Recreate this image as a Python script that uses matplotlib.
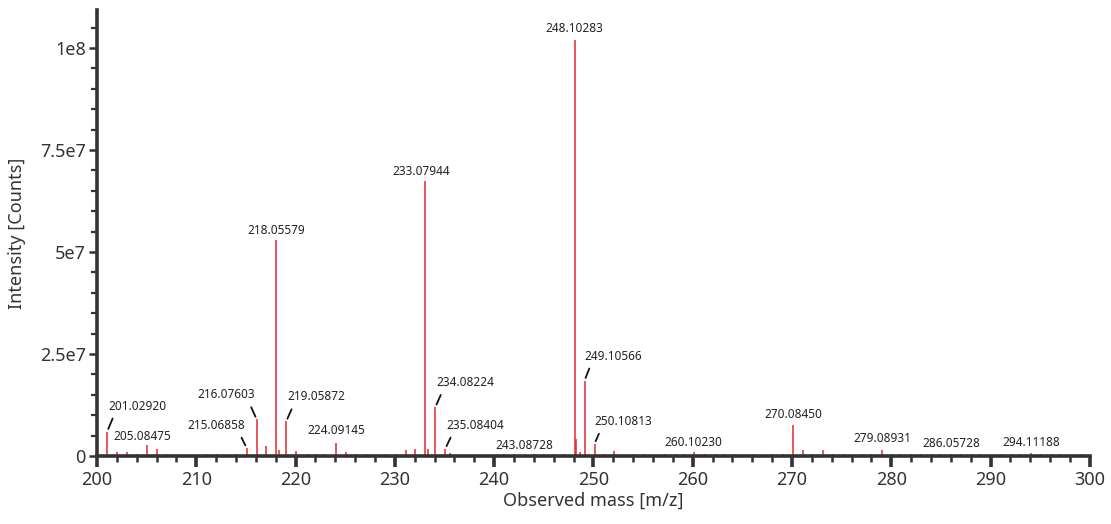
import numpy as np
import matplotlib
matplotlib.use("Agg")
import matplotlib.pyplot as plt
from matplotlib.ticker import MultipleLocator, FuncFormatter

plt.rcParams["font.family"] = ["Noto Sans", "DejaVu Sans"]

# labelled peaks: m/z and intensity
peak_mz = [201.02920, 205.08475, 215.06858, 216.07603, 218.05579, 219.05872,
           224.09145, 233.07944, 234.08224, 235.08404, 243.08728, 248.10283,
           249.10566, 250.10813, 260.10230, 270.08450, 279.08931, 286.05728,
           294.11188]
peak_int = [6.0e6, 2.6e6, 2.0e6, 9.0e6, 5.3e7, 8.5e6,
            3.1e6, 6.75e7, 1.2e7, 1.8e6, 0.45e6, 1.02e8,
            1.85e7, 3.0e6, 0.9e6, 7.6e6, 1.5e6, 0.6e6,
            0.8e6]

# unlabelled minor peaks
minor_mz = [199.95, 202.05, 203.05, 204.06, 206.08, 206.98, 207.99, 211.0,
            212.1, 213.9, 217.05, 218.35, 220.06, 221.2, 222.2, 223.0,
            225.07, 226.1, 227.1, 228.1, 229.1, 230.1, 231.1, 232.06,
            233.3, 235.55, 236.2, 241.0, 242.0, 244.05, 245.06, 246.07,
            247.08, 248.25, 248.6, 251.1, 252.1, 253.1, 254.1, 255.1,
            257.2, 258.2, 259.2, 261.2, 262.2, 263.2, 264.2, 265.2,
            266.2, 268.0, 269.05, 271.07, 272.07, 273.08, 274.1, 275.3,
            277.0, 278.0, 280.0, 281.0, 282.0, 283.0, 284.0, 285.05,
            287.06, 288.07, 289.08, 290.1, 291.1, 292.1, 293.1, 295.1,
            296.1, 297.1, 298.2, 299.2]
minor_int = [0.8e6, 1.0e6, 1.0e6, 0.6e6, 1.6e6, 0.6e6, 0.5e6, 0.4e6,
             0.4e6, 0.4e6, 2.5e6, 1.5e6, 1.2e6, 0.4e6, 0.4e6, 0.5e6,
             1.0e6, 0.5e6, 0.5e6, 0.4e6, 0.5e6, 0.6e6, 1.4e6, 1.6e6,
             1.8e6, 0.7e6, 0.5e6, 0.4e6, 0.4e6, 0.4e6, 0.5e6, 0.5e6,
             0.6e6, 4.2e6, 1.0e6, 0.5e6, 1.1e6, 0.5e6, 0.4e6, 0.4e6,
             0.4e6, 0.6e6, 0.5e6, 0.5e6, 0.4e6, 0.4e6, 0.4e6, 0.4e6,
             0.5e6, 0.5e6, 0.6e6, 1.5e6, 0.6e6, 1.5e6, 0.6e6, 0.4e6,
             0.4e6, 0.4e6, 0.6e6, 0.4e6, 0.4e6, 0.4e6, 0.4e6, 0.4e6,
             0.4e6, 0.4e6, 0.4e6, 0.4e6, 0.4e6, 0.4e6, 0.5e6, 0.5e6,
             0.6e6, 0.4e6, 0.4e6, 0.4e6]

# label offsets in pixels from the peak top (dx, dy, leader, leader anchor)
label_pos = [(30, 19, True, 0.12), (-5, 2, False, 0.5), (-30, 16, True, 0.88),
             (-30, 18, True, 0.88), (0, 3, False, 0.5), (30, 18, True, 0.12),
             (0, 6, False, 0.5), (-4, 3, False, 0.5), (30, 18, True, 0.12),
             (30, 17, True, 0.12), (0, 2, False, 0.5), (0, 5, False, 0.5),
             (29, 18, True, 0.12), (29, 16, True, 0.12), (0, 3, False, 0.5),
             (0, 4, False, 0.5), (0, 5, False, 0.5), (0, 4, False, 0.5),
             (0, 4, False, 0.5)]

ytick_text = {0: "0", 2.5e7: "2.5e7", 5e7: "5e7", 7.5e7: "7.5e7", 1e8: "1e8"}

red = "#e5262e"
dark = "#333333"

fig = plt.figure(figsize=(11.11, 5.24), dpi=100)
ax = fig.add_axes([0.0873, 0.1298, 0.8937, 0.851])

all_mz = np.array(minor_mz + peak_mz)
all_int = np.array(minor_int + peak_int)
ax.vlines(all_mz, 0, all_int, color=red, linewidth=1.1, zorder=2)

for mz, inten, (dx, dy, leader, rx) in zip(peak_mz, peak_int, label_pos):
    if leader:
        ax.annotate(f"{mz:.5f}", xy=(mz, inten), xytext=(dx, dy),
                    textcoords="offset pixels", ha="center", va="bottom",
                    fontsize=8.5, color="#222222",
                    arrowprops=dict(arrowstyle="-", color="#111111", lw=1.3,
                                    relpos=(rx, 0.0), shrinkA=2.5, shrinkB=2))
    else:
        ax.annotate(f"{mz:.5f}", xy=(mz, inten), xytext=(dx, dy),
                    textcoords="offset pixels", ha="center", va="bottom",
                    fontsize=8.5, color="#222222")

ax.set_xlim(200, 300)
ax.set_ylim(0, 1.093e8)

for side in ("top", "right"):
    ax.spines[side].set_visible(False)
for side in ("left", "bottom"):
    ax.spines[side].set_linewidth(2.6)
    ax.spines[side].set_color(dark)

ax.xaxis.set_major_locator(MultipleLocator(10))
ax.xaxis.set_minor_locator(MultipleLocator(2))
ax.yaxis.set_major_locator(MultipleLocator(2.5e7))
ax.yaxis.set_minor_locator(MultipleLocator(5e6))
ax.yaxis.set_major_formatter(FuncFormatter(lambda v, p: ytick_text.get(round(v / 2.5e6) * 2.5e6, "")))

ax.tick_params(axis="x", which="major", length=8, width=2.6, color=dark,
               labelsize=13, labelcolor=dark, pad=3)
ax.tick_params(axis="x", which="minor", length=4, width=1.8, color=dark)
ax.tick_params(axis="y", which="major", length=6, width=1.8, color=dark,
               labelsize=13, labelcolor=dark, pad=2)
ax.tick_params(axis="y", which="minor", length=4, width=1.6, color=dark)

ax.set_xlabel("Observed mass [m/z]", fontsize=13, color=dark, labelpad=2)
ax.set_ylabel("Intensity [Counts]", fontsize=13, color=dark)
ax.yaxis.set_label_coords(-0.072, 0.5)

fig.savefig("out.png", dpi=100)
